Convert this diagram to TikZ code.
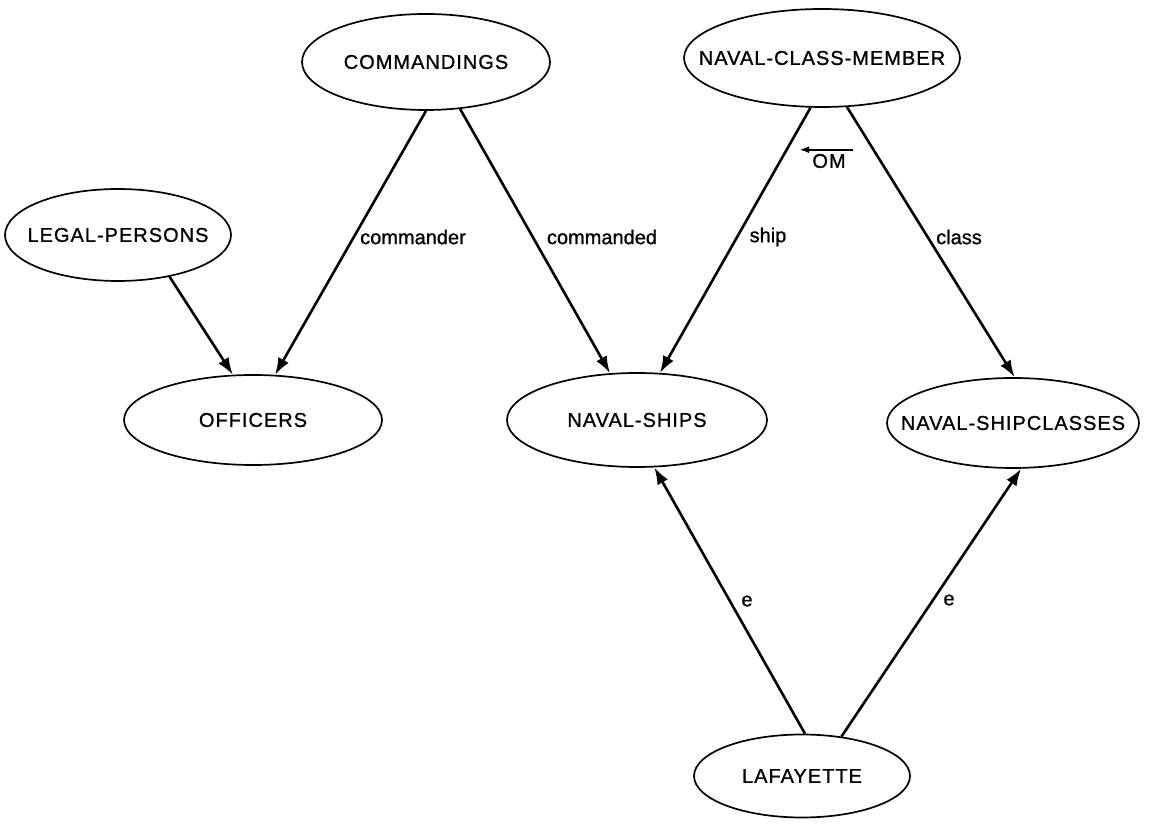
\documentclass[tikz,border=0pt]{standalone}
\usepackage{fontspec}
\setmainfont{Liberation Sans}[FakeBold=1]
\newfontfamily\setfont{Liberation Sans}[LetterSpace=5, FakeBold=1]
\usepackage{tikz}
\usetikzlibrary{shapes.geometric, arrows.meta, positioning, calc}

\begin{document}
\begin{tikzpicture}[x=1pt, y=1pt,
    set/.style={ellipse, draw, line width=1.7pt, inner sep=0pt, font=\fontsize{20}{24}\setfont},
    role/.style={inner sep=1pt, font=\fontsize{20}{24}\selectfont},
    link/.style={-{Latex[length=17pt, width=12pt]}, line width=2.6pt}]
    \useasboundingbox (0,0) rectangle (1159,835);
    \node[set, minimum width=248pt, minimum height=96pt] (commandings) at (426,773) {\makebox[0pt]{COMMANDINGS}};
    \node[set, minimum width=276pt, minimum height=98pt] (member) at (822,777) {\makebox[0pt]{NAVAL-CLASS-MEMBER}};
    \node[set, minimum width=226pt, minimum height=92pt] (persons) at (118,600) {\makebox[0pt]{LEGAL-PERSONS}};
    \node[set, minimum width=258pt, minimum height=90pt] (officers) at (253,415) {\makebox[0pt]{OFFICERS}};
    \node[set, minimum width=260pt, minimum height=94pt] (ships) at (637,415) {\makebox[0pt]{NAVAL-SHIPS}};
    \node[set, minimum width=252pt, minimum height=90pt] (classes) at (1013,412) {\makebox[0pt]{NAVAL-SHIPCLASSES}};
    \node[set, minimum width=216pt, minimum height=83pt] (lafayette) at (802,59) {\makebox[0pt]{LAFAYETTE}};
    % role names
    \node[role] (commander) at (413,598) {commander};
    \node[role] (commanded) at (602,598) {commanded};
    \node[role] (ship) at (768,598) {ship};
    \node[role] (class) at (959,598) {class};
    \node[role] (e1) at (747,234) {e};
    \node[role] (e2) at (949,235) {e};
    \node[role, font=\fontsize{20}{24}\setfont] (om) at (829,674) {OM};
    \draw[-{Latex[length=10pt, width=7pt]}, line width=2.2pt] ($(om.north east)+(6,3)$) -- ($(om.north west)+(-12,3)$);
    % links
    \draw[link] (commandings.south) -- (officers.64);
    \draw[link] (commandings.-54) -- (ships.120);
    \draw[link] (persons.-39) -- (officers.114);
    \draw[link] (member.-103) -- (ships.64);
    \draw[link] (member.-63) -- (classes.88);
    \draw[link] (lafayette.86) -- (ships.-70);
    \draw[link] (lafayette.45) -- (classes.-80);
\end{tikzpicture}
\end{document}
